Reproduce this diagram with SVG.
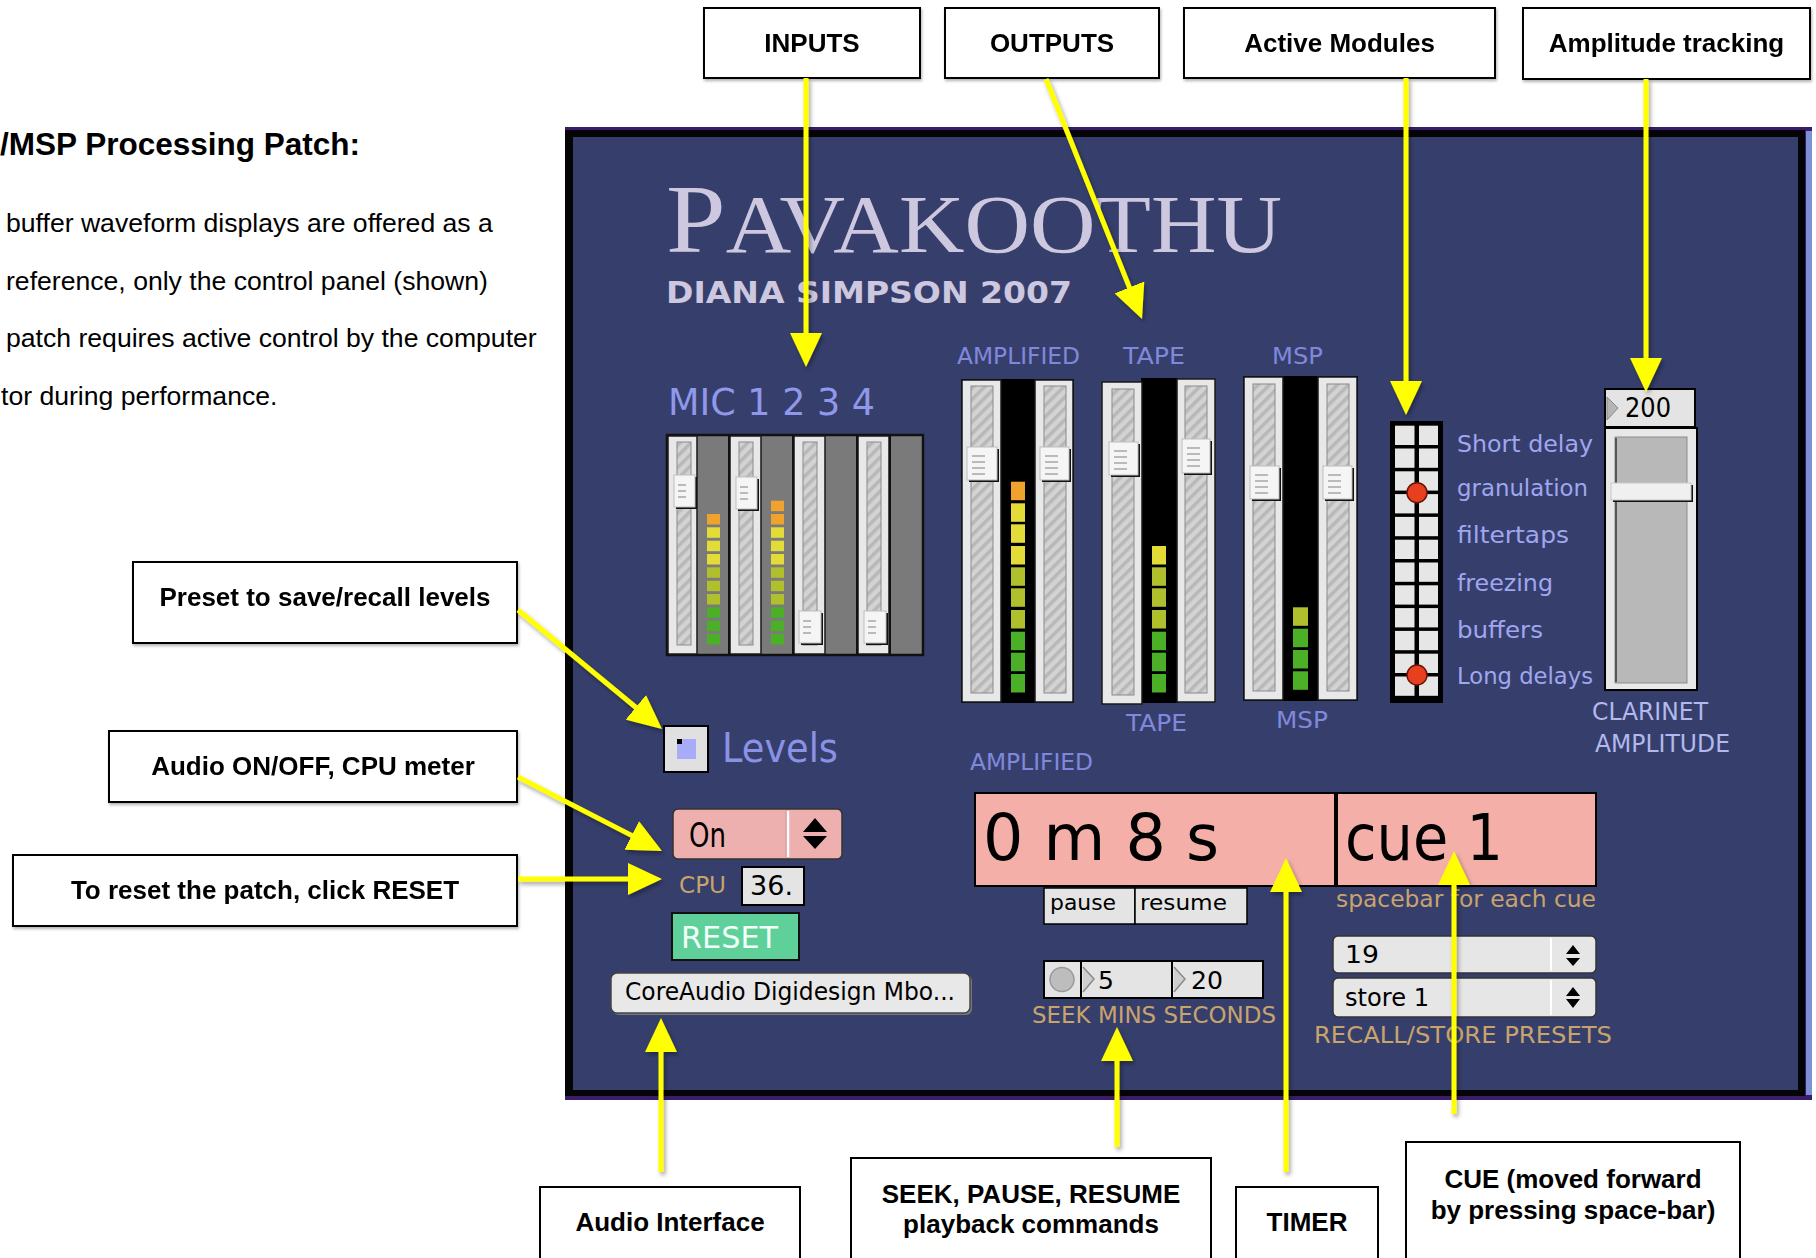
<svg xmlns="http://www.w3.org/2000/svg" width="1816" height="1258" viewBox="0 0 1816 1258">
<defs>
<style>
.note{fill:#fff;stroke:#000;stroke-width:2}
.nt{font-family:"Liberation Sans",Arial,sans-serif;font-weight:bold;font-size:26px;fill:#000;text-anchor:middle}
.body{font-family:"Liberation Sans",Arial,sans-serif;font-size:26.6px;fill:#000}
.px{font-family:"DejaVu Sans",Verdana,sans-serif}
.lab{fill:#8088dc;font-size:23px}
.mod{fill:#a0a6f0;font-size:23px}
.tan{fill:#c9a36c;font-size:23px}
.blk{fill:#000}
.frame{fill:#e8e8e8;stroke:#1a1a1a;stroke-width:1.5}
.track{fill:url(#hatch);stroke:#8a8a8a;stroke-width:1}
.tsh{fill:#111}
.thumb{fill:#f5f5f5;stroke:#bdbdbd;stroke-width:1}
.grip{stroke:#9a9a9a;stroke-width:1.3}
.lo{fill:#f0a22e}
.ly{fill:#e3dc38}
.lol{fill:#b0bf2c}
.lg{fill:#4caf28}
.cell{fill:#e6e6e6}
.box{fill:#e4e4e4;stroke:#000;stroke-width:2}
.menu{fill:#e6e6e6;stroke:#333;stroke-width:1.5}
.conn{fill:none;stroke:#ffff00;stroke-width:5;marker-end:url(#ah)}
</style>
<pattern id="hatch" patternUnits="userSpaceOnUse" width="8" height="8" patternTransform="rotate(45)">
<rect width="8" height="8" fill="#d3d3d3"/>
<rect width="3.5" height="8" fill="#b8b8b8"/>
</pattern>
<marker id="ah" markerUnits="userSpaceOnUse" viewBox="0 0 34 32" markerWidth="34" markerHeight="32" refX="14" refY="16" orient="auto">
<path d="M0,0 L34,16 L0,32 Z" fill="#ffff00"/>
</marker>
<filter id="lsh" filterUnits="userSpaceOnUse" x="0" y="0" width="1816" height="1258">
<feDropShadow dx="2" dy="3" stdDeviation="2" flood-color="#000" flood-opacity="0.35"/>
</filter>
<filter id="bsh" x="-5%" y="-5%" width="115%" height="125%">
<feDropShadow dx="1" dy="2" stdDeviation="1.5" flood-color="#000" flood-opacity="0.3"/>
</filter>
</defs>

<rect width="1816" height="1258" fill="#fff"/>

<!-- description text, left column -->
<g id="description">
<text x="0" y="155" font-family="Liberation Sans, Arial, sans-serif" font-weight="bold" font-size="31.5">/MSP Processing Patch:</text>
<text class="body" x="6" y="232">buffer waveform displays are offered as a</text>
<text class="body" x="6" y="290">reference, only the control panel (shown)</text>
<text class="body" x="6" y="347">patch requires active control by the computer</text>
<text class="body" x="1" y="405">tor during performance.</text>
</g>

<!-- control panel -->
<g id="panel">
<rect x="565" y="127" width="1247" height="973" fill="#3a1c6a"/>
<rect x="565" y="130" width="1240" height="966" fill="#050505"/>
<rect x="1806" y="131" width="6" height="964" fill="#7b91d3"/>
<rect x="573" y="137" width="1225" height="953" fill="#363f6c"/>

<text x="666" y="252" font-family="Liberation Serif, serif" fill="#cdc7df" textLength="616" lengthAdjust="spacingAndGlyphs"><tspan font-size="97">P</tspan><tspan font-size="82">AVAKOOTHU</tspan></text>
<text x="666" y="303" font-family="DejaVu Sans, sans-serif" font-weight="bold" font-size="31" fill="#cdc7df" textLength="406" lengthAdjust="spacingAndGlyphs">DIANA SIMPSON 2007</text>

<!-- microphone input faders -->
<g id="mic-bank">
<text class="px" x="668" y="415" font-size="38" fill="#8f98ea" textLength="207" lengthAdjust="spacingAndGlyphs">MIC 1 2 3 4</text>
<rect x="667" y="435" width="256" height="220" fill="#7a7a7a" stroke="#111" stroke-width="2.5"/>
<rect class="frame" x="668" y="436" width="29" height="218"/>
<rect class="frame" x="730" y="436" width="31" height="218"/>
<rect class="frame" x="794" y="436" width="31" height="218"/>
<rect class="frame" x="858" y="436" width="31" height="218"/>
<g stroke="#111" stroke-width="2">
<line x1="729" y1="436" x2="729" y2="654"/><line x1="793" y1="436" x2="793" y2="654"/><line x1="857" y1="436" x2="857" y2="654"/><line x1="890" y1="436" x2="890" y2="654"/>
</g>
<rect class="track" x="677" y="442" width="14" height="203"/>
<rect class="track" x="739" y="442" width="14" height="203"/>
<rect class="track" x="803" y="442" width="14" height="203"/>
<rect class="track" x="867" y="442" width="14" height="203"/>
<rect class="tsh" x="676" y="477" width="21" height="32"/><rect class="thumb" x="674" y="475" width="21" height="32"/>
<rect class="tsh" x="738" y="479" width="21" height="32"/><rect class="thumb" x="736" y="477" width="21" height="32"/>
<rect class="tsh" x="801" y="613" width="22" height="32"/><rect class="thumb" x="799" y="611" width="22" height="32"/>
<rect class="tsh" x="866" y="613" width="22" height="32"/><rect class="thumb" x="864" y="611" width="22" height="32"/>
<g class="grip">
<line x1="678" y1="485" x2="686" y2="485"/><line x1="678" y1="491" x2="686" y2="491"/><line x1="678" y1="497" x2="686" y2="497"/>
<line x1="740" y1="487" x2="748" y2="487"/><line x1="740" y1="493" x2="748" y2="493"/><line x1="740" y1="499" x2="748" y2="499"/>
<line x1="803" y1="621" x2="811" y2="621"/><line x1="803" y1="627" x2="811" y2="627"/><line x1="803" y1="633" x2="811" y2="633"/>
<line x1="868" y1="621" x2="876" y2="621"/><line x1="868" y1="627" x2="876" y2="627"/><line x1="868" y1="633" x2="876" y2="633"/>
</g>
<rect class="lo" x="707" y="514" width="13" height="10.5"/>
<rect class="ly" x="707" y="527.3" width="13" height="10.5"/>
<rect class="ly" x="707" y="540.7" width="13" height="10.5"/>
<rect class="ly" x="707" y="554" width="13" height="10.5"/>
<rect class="lol" x="707" y="567.3" width="13" height="10.5"/>
<rect class="lol" x="707" y="580.7" width="13" height="10.5"/>
<rect class="lol" x="707" y="594" width="13" height="10.5"/>
<rect class="lg" x="707" y="607.3" width="13" height="10.5"/>
<rect class="lg" x="707" y="620.7" width="13" height="10.5"/>
<rect class="lg" x="707" y="634" width="13" height="10.5"/>
<rect class="lo" x="771" y="500.7" width="13" height="10.5"/>
<rect class="lo" x="771" y="514" width="13" height="10.5"/>
<rect class="ly" x="771" y="527.3" width="13" height="10.5"/>
<rect class="ly" x="771" y="540.7" width="13" height="10.5"/>
<rect class="ly" x="771" y="554" width="13" height="10.5"/>
<rect class="lol" x="771" y="567.3" width="13" height="10.5"/>
<rect class="lol" x="771" y="580.7" width="13" height="10.5"/>
<rect class="lol" x="771" y="594" width="13" height="10.5"/>
<rect class="lg" x="771" y="607.3" width="13" height="10.5"/>
<rect class="lg" x="771" y="620.7" width="13" height="10.5"/>
<rect class="lg" x="771" y="634" width="13" height="10.5"/>
</g>

<!-- output faders: amplified, tape, msp -->
<g id="outputs">
<text class="px lab" x="957" y="364" textLength="123" lengthAdjust="spacingAndGlyphs">AMPLIFIED</text>
<text class="px lab" x="1123" y="364" textLength="62" lengthAdjust="spacingAndGlyphs">TAPE</text>
<text class="px lab" x="1272" y="364" textLength="51" lengthAdjust="spacingAndGlyphs">MSP</text>
<text class="px lab" x="1126" y="731" textLength="61" lengthAdjust="spacingAndGlyphs">TAPE</text>
<text class="px lab" x="1276" y="728" textLength="52" lengthAdjust="spacingAndGlyphs">MSP</text>
<text class="px lab" x="970" y="770" textLength="123" lengthAdjust="spacingAndGlyphs">AMPLIFIED</text>

<rect x="961" y="379" width="113" height="324" fill="#000"/>
<rect class="frame" x="962" y="380" width="39" height="322"/>
<rect class="frame" x="1035" y="380" width="38" height="322"/>
<rect class="track" x="971" y="386" width="22" height="307"/>
<rect class="track" x="1044" y="386" width="22" height="307"/>
<rect class="tsh" x="969" y="449" width="30" height="33"/><rect class="thumb" x="967" y="447" width="30" height="33"/>
<rect class="tsh" x="1042" y="449" width="29" height="33"/><rect class="thumb" x="1040" y="447" width="29" height="33"/>

<rect x="1141" y="378" width="37" height="325" fill="#000"/>
<rect class="frame" x="1102" y="382" width="40" height="322"/>
<rect class="frame" x="1177" y="379" width="38" height="323"/>
<rect class="track" x="1112" y="389" width="22" height="306"/>
<rect class="track" x="1185" y="386" width="22" height="307"/>
<rect class="tsh" x="1111" y="444" width="29" height="33"/><rect class="thumb" x="1109" y="442" width="29" height="33"/>
<rect class="tsh" x="1184" y="441" width="28" height="34"/><rect class="thumb" x="1182" y="439" width="28" height="34"/>

<rect x="1243" y="376" width="115" height="325" fill="#000"/>
<rect class="frame" x="1244" y="377" width="39" height="323"/>
<rect class="frame" x="1318" y="377" width="39" height="323"/>
<rect class="track" x="1253" y="384" width="22" height="307"/>
<rect class="track" x="1327" y="384" width="22" height="307"/>
<rect class="tsh" x="1252" y="468" width="29" height="33"/><rect class="thumb" x="1250" y="466" width="29" height="33"/>
<rect class="tsh" x="1325" y="468" width="29" height="33"/><rect class="thumb" x="1323" y="466" width="29" height="33"/>

<g class="grip">
<line x1="972" y1="456" x2="985" y2="456"/><line x1="972" y1="462" x2="985" y2="462"/><line x1="972" y1="468" x2="985" y2="468"/><line x1="972" y1="474" x2="985" y2="474"/>
<line x1="1045" y1="456" x2="1058" y2="456"/><line x1="1045" y1="462" x2="1058" y2="462"/><line x1="1045" y1="468" x2="1058" y2="468"/><line x1="1045" y1="474" x2="1058" y2="474"/>
<line x1="1114" y1="451" x2="1127" y2="451"/><line x1="1114" y1="457" x2="1127" y2="457"/><line x1="1114" y1="463" x2="1127" y2="463"/><line x1="1114" y1="469" x2="1127" y2="469"/>
<line x1="1187" y1="448" x2="1200" y2="448"/><line x1="1187" y1="454" x2="1200" y2="454"/><line x1="1187" y1="460" x2="1200" y2="460"/><line x1="1187" y1="466" x2="1200" y2="466"/>
<line x1="1255" y1="475" x2="1268" y2="475"/><line x1="1255" y1="481" x2="1268" y2="481"/><line x1="1255" y1="487" x2="1268" y2="487"/><line x1="1255" y1="493" x2="1268" y2="493"/>
<line x1="1328" y1="475" x2="1341" y2="475"/><line x1="1328" y1="481" x2="1341" y2="481"/><line x1="1328" y1="487" x2="1341" y2="487"/><line x1="1328" y1="493" x2="1341" y2="493"/>
</g>

<rect class="lo" x="1011" y="481.7" width="14" height="18.5"/>
<rect class="ly" x="1011" y="503.3" width="14" height="18.5"/>
<rect class="ly" x="1011" y="524.3" width="14" height="18.5"/>
<rect class="ly" x="1011" y="546" width="14" height="18.5"/>
<rect class="lol" x="1011" y="567.3" width="14" height="18.5"/>
<rect class="lol" x="1011" y="588.3" width="14" height="18.5"/>
<rect class="lol" x="1011" y="610" width="14" height="18.5"/>
<rect class="lg" x="1011" y="631.7" width="14" height="18.5"/>
<rect class="lg" x="1011" y="652.7" width="14" height="18.5"/>
<rect class="lg" x="1011" y="674" width="14" height="18.5"/>

<rect class="ly" x="1152" y="546" width="14" height="18.5"/>
<rect class="lol" x="1152" y="567.3" width="14" height="18.5"/>
<rect class="lol" x="1152" y="588.3" width="14" height="18.5"/>
<rect class="lol" x="1152" y="610" width="14" height="18.5"/>
<rect class="lg" x="1152" y="631.7" width="14" height="18.5"/>
<rect class="lg" x="1152" y="652.7" width="14" height="18.5"/>
<rect class="lg" x="1152" y="674" width="14" height="18.5"/>

<rect class="lol" x="1293" y="607.3" width="15" height="18.5"/>
<rect class="lg" x="1293" y="628.7" width="15" height="18.5"/>
<rect class="lg" x="1293" y="650" width="15" height="18.5"/>
<rect class="lg" x="1293" y="671.3" width="15" height="18.5"/>
</g>

<!-- active module matrix -->
<g id="modules">
<rect x="1390" y="421" width="53" height="282" fill="#000"/>
<g class="cell">
<rect x="1395" y="425.7" width="19.5" height="19.3"/><rect x="1419" y="425.7" width="19" height="19.3"/>
<rect x="1395" y="448.5" width="19.5" height="19.3"/><rect x="1419" y="448.5" width="19" height="19.3"/>
<rect x="1395" y="471.3" width="19.5" height="19.3"/><rect x="1419" y="471.3" width="19" height="19.3"/>
<rect x="1395" y="494.1" width="19.5" height="19.3"/><rect x="1419" y="494.1" width="19" height="19.3"/>
<rect x="1395" y="516.9" width="19.5" height="19.3"/><rect x="1419" y="516.9" width="19" height="19.3"/>
<rect x="1395" y="539.7" width="19.5" height="19.3"/><rect x="1419" y="539.7" width="19" height="19.3"/>
<rect x="1395" y="562.5" width="19.5" height="19.3"/><rect x="1419" y="562.5" width="19" height="19.3"/>
<rect x="1395" y="585.3" width="19.5" height="19.3"/><rect x="1419" y="585.3" width="19" height="19.3"/>
<rect x="1395" y="608.1" width="19.5" height="19.3"/><rect x="1419" y="608.1" width="19" height="19.3"/>
<rect x="1395" y="630.9" width="19.5" height="19.3"/><rect x="1419" y="630.9" width="19" height="19.3"/>
<rect x="1395" y="653.7" width="19.5" height="19.3"/><rect x="1419" y="653.7" width="19" height="19.3"/>
<rect x="1395" y="676.5" width="19.5" height="19.3"/><rect x="1419" y="676.5" width="19" height="19.3"/>
</g>
<circle cx="1417" cy="492.7" r="10" fill="#e8401f" stroke="#6a1608" stroke-width="1.5"/>
<circle cx="1417" cy="675" r="10" fill="#e8401f" stroke="#6a1608" stroke-width="1.5"/>
<text class="px mod" x="1457" y="452" textLength="136" lengthAdjust="spacingAndGlyphs">Short delay</text>
<text class="px mod" x="1457" y="496" textLength="131" lengthAdjust="spacingAndGlyphs">granulation</text>
<text class="px mod" x="1457" y="543" textLength="112" lengthAdjust="spacingAndGlyphs">filtertaps</text>
<text class="px mod" x="1457" y="591" textLength="96" lengthAdjust="spacingAndGlyphs">freezing</text>
<text class="px mod" x="1457" y="638" textLength="86" lengthAdjust="spacingAndGlyphs">buffers</text>
<text class="px mod" x="1457" y="684" textLength="136" lengthAdjust="spacingAndGlyphs">Long delays</text>
</g>

<!-- clarinet amplitude slider -->
<g id="amplitude">
<rect class="box" x="1605" y="389" width="90" height="38"/>
<path d="M1607,397 L1618,408 L1607,420 Z" fill="#b5b5b5" stroke="#888" stroke-width="1"/>
<text class="px blk" x="1625" y="417" font-size="26" textLength="46" lengthAdjust="spacingAndGlyphs">200</text>
<rect x="1605" y="428" width="92" height="262" fill="#e8e8e8" stroke="#000" stroke-width="2"/>
<rect x="1615" y="437" width="72" height="246" fill="#b8b8b8" stroke="#8c8c8c" stroke-width="1"/>
<line x1="1616" y1="438" x2="1616" y2="682" stroke="#555" stroke-width="2"/>
<rect x="1613" y="485" width="80" height="17" fill="#111"/>
<rect x="1611" y="483" width="80" height="17" fill="#f0f0f0" stroke="#c8c8c8" stroke-width="1"/>
<text class="px" x="1592" y="720" font-size="24" fill="#b3b8ee" textLength="116" lengthAdjust="spacingAndGlyphs">CLARINET</text>
<text class="px" x="1595" y="752" font-size="24" fill="#b3b8ee" textLength="135" lengthAdjust="spacingAndGlyphs">AMPLITUDE</text>
</g>

<!-- levels preset toggle -->
<g id="levels">
<rect x="664" y="726" width="44" height="46" fill="#e0e0e0" stroke="#000" stroke-width="2"/>
<rect x="677" y="739" width="19" height="20" fill="#a8acf8"/>
<rect x="677" y="739" width="5" height="5" fill="#000"/>
<text class="px" x="722" y="762" font-size="40" fill="#8a92e6" textLength="116" lengthAdjust="spacingAndGlyphs">Levels</text>
</g>

<!-- dac on/off, cpu, reset, driver -->
<g id="audio-controls">
<rect x="673" y="809" width="169" height="50" rx="5" fill="#eeb0ae" stroke="#333" stroke-width="1.5"/>
<line x1="788" y1="811" x2="788" y2="857" stroke="#fff" stroke-width="2.5"/>
<line x1="786" y1="811" x2="786" y2="857" stroke="#c99" stroke-width="1"/>
<path d="M815,818 L827,832 L803,832 Z M803,836 L827,836 L815,849 Z" fill="#000"/>
<text class="px blk" x="689" y="847" font-size="33" textLength="37" lengthAdjust="spacingAndGlyphs">On</text>
<text class="px tan" x="679" y="893" font-size="24" textLength="47" lengthAdjust="spacingAndGlyphs">CPU</text>
<rect class="box" x="742" y="867" width="62" height="38"/>
<text class="px blk" x="750" y="895" font-size="26" textLength="43" lengthAdjust="spacingAndGlyphs">36.</text>
<rect x="672" y="913" width="127" height="47" fill="#5fd09a" stroke="#111" stroke-width="2"/>
<text class="px" x="681" y="948" font-size="31" fill="#f2fff8" textLength="97" lengthAdjust="spacingAndGlyphs">RESET</text>
<rect x="613" y="975" width="359" height="40" rx="6" fill="#777"/>
<rect x="611" y="973" width="359" height="40" rx="6" fill="#e8e8e8" stroke="#444" stroke-width="1.5"/>
<text class="px blk" x="625" y="1000" font-size="25" textLength="330" lengthAdjust="spacingAndGlyphs">CoreAudio Digidesign Mbo...</text>
</g>

<!-- timer, cue, transport -->
<g id="transport">
<rect x="975" y="793" width="360" height="93" fill="#f4afa9" stroke="#000" stroke-width="2"/>
<rect x="1337" y="793" width="259" height="93" fill="#f4afa9" stroke="#000" stroke-width="2"/>
<text class="px blk" x="983" y="860" font-size="64" textLength="236" lengthAdjust="spacingAndGlyphs">0 m 8 s</text>
<text class="px blk" x="1345" y="860" font-size="64" textLength="158" lengthAdjust="spacingAndGlyphs">cue 1</text>
<rect x="1044" y="888" width="91" height="36" fill="#e4e4e4" stroke="#000" stroke-width="1.5"/>
<rect x="1135" y="888" width="112" height="36" fill="#e4e4e4" stroke="#000" stroke-width="1.5"/>
<text class="px blk" x="1050" y="910" font-size="22" textLength="66" lengthAdjust="spacingAndGlyphs">pause</text>
<text class="px blk" x="1140" y="910" font-size="22" textLength="87" lengthAdjust="spacingAndGlyphs">resume</text>
<text class="px tan" x="1336" y="907" textLength="260" lengthAdjust="spacingAndGlyphs">spacebar for each cue</text>

<rect class="box" x="1044" y="961" width="219" height="37"/>
<line x1="1081" y1="962" x2="1081" y2="997" stroke="#000" stroke-width="2"/>
<line x1="1172" y1="962" x2="1172" y2="997" stroke="#000" stroke-width="2"/>
<circle cx="1062" cy="979.5" r="12" fill="#bdbdbd" stroke="#9a9a9a" stroke-width="1.5"/>
<path d="M1083,967 L1094,979 L1083,992" fill="#cfcfcf" stroke="#8a8a8a" stroke-width="1.5"/>
<path d="M1174,967 L1185,979 L1174,992" fill="#cfcfcf" stroke="#8a8a8a" stroke-width="1.5"/>
<text class="px blk" x="1098" y="989" font-size="25">5</text>
<text class="px blk" x="1191" y="989" font-size="25" textLength="32" lengthAdjust="spacingAndGlyphs">20</text>
<text class="px tan" x="1032" y="1023" font-size="24" textLength="244" lengthAdjust="spacingAndGlyphs">SEEK MINS SECONDS</text>

<rect class="menu" x="1333" y="936" width="263" height="37" rx="5"/>
<line x1="1551" y1="938" x2="1551" y2="971" stroke="#fff" stroke-width="2"/>
<path d="M1573,945 L1580,954 L1566,954 Z M1566,958 L1580,958 L1573,966 Z" fill="#000"/>
<text class="px blk" x="1345" y="963" font-size="25" textLength="34" lengthAdjust="spacingAndGlyphs">19</text>
<rect class="menu" x="1333" y="978" width="263" height="39" rx="5"/>
<line x1="1551" y1="980" x2="1551" y2="1015" stroke="#fff" stroke-width="2"/>
<path d="M1573,987 L1580,996 L1566,996 Z M1566,999 L1580,999 L1573,1008 Z" fill="#000"/>
<text class="px blk" x="1345" y="1006" font-size="25" textLength="84" lengthAdjust="spacingAndGlyphs">store 1</text>
<text class="px tan" x="1314" y="1043" font-size="24" textLength="298" lengthAdjust="spacingAndGlyphs">RECALL/STORE PRESETS</text>
</g>
</g>

<!-- callout boxes -->
<g id="n-inputs" filter="url(#bsh)"><rect class="note" x="704" y="8" width="216" height="70"/><text class="nt" x="812" y="52">INPUTS</text></g>
<g id="n-outputs" filter="url(#bsh)"><rect class="note" x="945" y="8" width="214" height="70"/><text class="nt" x="1052" y="52">OUTPUTS</text></g>
<g id="n-modules" filter="url(#bsh)"><rect class="note" x="1184" y="8" width="311" height="70"/><text class="nt" x="1339.5" y="52">Active Modules</text></g>
<g id="n-amplitude" filter="url(#bsh)"><rect class="note" x="1523" y="8" width="287" height="71"/><text class="nt" x="1666.5" y="52">Amplitude tracking</text></g>
<g id="n-preset" filter="url(#bsh)"><rect class="note" x="133" y="562" width="384" height="81"/><text class="nt" x="325" y="606">Preset to save/recall levels</text></g>
<g id="n-audio" filter="url(#bsh)"><rect class="note" x="109" y="731" width="408" height="71"/><text class="nt" x="313" y="775">Audio ON/OFF, CPU meter</text></g>
<g id="n-reset" filter="url(#bsh)"><rect class="note" x="13" y="855" width="504" height="71"/><text class="nt" x="265" y="899">To reset the patch, click RESET</text></g>
<g id="n-interface"><rect class="note" x="540" y="1187" width="260" height="90"/><text class="nt" x="670" y="1231">Audio Interface</text></g>
<g id="n-seek"><rect class="note" x="851" y="1158" width="360" height="120"/><text class="nt" x="1031" y="1203">SEEK, PAUSE, RESUME</text><text class="nt" x="1031" y="1233">playback commands</text></g>
<g id="n-timer"><rect class="note" x="1236" y="1187" width="142" height="90"/><text class="nt" x="1307" y="1231">TIMER</text></g>
<g id="n-cue"><rect class="note" x="1406" y="1142" width="334" height="130"/><text class="nt" x="1573" y="1188">CUE (moved forward</text><text class="nt" x="1573" y="1219">by pressing space-bar)</text></g>

<!-- connectors -->
<g id="connectors" filter="url(#lsh)">
<path class="conn" d="M806,78 L806,347"/>
<path class="conn" d="M1046,79 L1134.6,300.4"/>
<path class="conn" d="M1406,78 L1406,395"/>
<path class="conn" d="M1646,79 L1646,372"/>
<path class="conn" d="M518,610 L646.6,716.3"/>
<path class="conn" d="M518,777 L644.2,841.9"/>
<path class="conn" d="M518,879 L642,879"/>
<path class="conn" d="M661,1172 L661,1038"/>
<path class="conn" d="M1117,1147 L1117,1047"/>
<path class="conn" d="M1286,1172 L1286,878"/>
<path class="conn" d="M1454,1114 L1454,871"/>
</g>
</svg>
